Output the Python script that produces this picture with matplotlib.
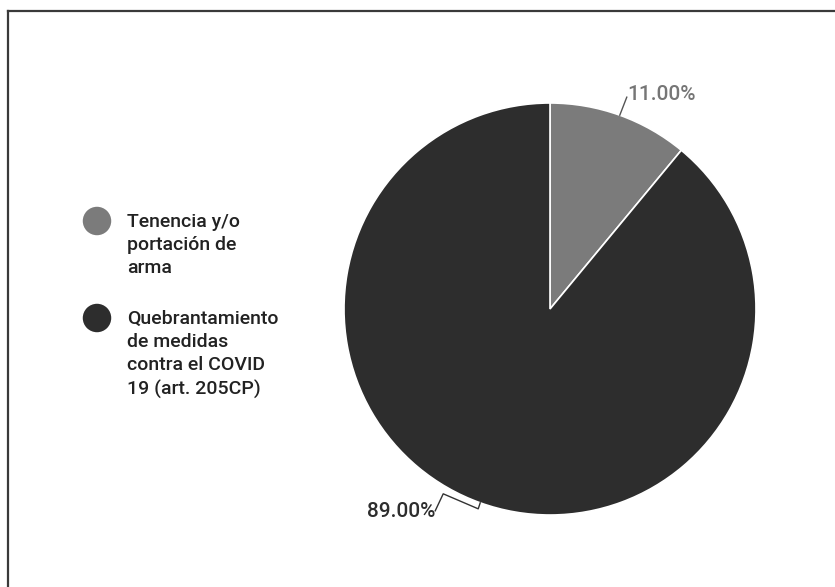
import numpy as np
import matplotlib.pyplot as plt
from matplotlib.lines import Line2D

plt.rcParams['font.family'] = ['Roboto', 'DejaVu Sans']

# Slice data
labels = ['Tenencia y/o\nportación de\narma',
          'Quebrantamiento\nde medidas\ncontra el COVID\n19 (art. 205CP)']
values = [11.0, 89.0]
colors = ['#7b7b7b', '#2d2d2d']
label_colors = ['#767676', '#2d2d2d']

W, H = 835, 587
fig = plt.figure(figsize=(W / 100, H / 100), dpi=100)
ax = fig.add_axes([0, 0, 1, 1])

cx, cy, r = 550, H - 309, 206
wedges, _ = ax.pie(values, colors=colors, startangle=90, counterclock=False,
                   center=(cx, cy), radius=r,
                   wedgeprops=dict(edgecolor='white', linewidth=1.2))
ax.set_xlim(0, W)
ax.set_ylim(0, H)
ax.set_aspect('equal')
ax.axis('off')

# Percent labels with leader lines
for i, w in enumerate(wedges):
    mid = np.deg2rad((w.theta1 + w.theta2) / 2)
    ex, ey = cx + r * np.cos(mid), cy + r * np.sin(mid)
    txt = f'{values[i]:.2f}%'
    if i == 0:
        ax.plot([ex, ex + 7], [ey, ey + 18], color='#555555', lw=1)
        ax.text(ex + 7, ey + 21, txt, ha='left', va='center', fontsize=15,
                color=label_colors[i], fontweight='medium')
    else:
        xs = [ex, ex - 2, ex - 37, ex - 45]
        ys = [ey, ey - 6, ey + 9, ey - 8]
        ax.plot(xs, ys, color='#333333', lw=1)
        ax.text(ex - 45, ey - 9, txt, ha='right', va='center', fontsize=15,
                color=label_colors[i], fontweight='medium')

# Legend
leg_y = [H - 221, H - 318]
for lab, col, y in zip(labels, colors, leg_y):
    ax.scatter([97], [y], s=420, color=col, edgecolors='none')
    ax.text(127, y + 8, lab, ha='left', va='top', fontsize=14, color='#222222',
            linespacing=1.37, fontweight='medium')

# Frame lines on top and left
fig.add_artist(Line2D([8 / W, 1], [1 - 11 / H, 1 - 11 / H], color='#3a3a3a', lw=1.6))
fig.add_artist(Line2D([8 / W, 8 / W], [0, 1 - 11 / H], color='#3a3a3a', lw=1.6))

fig.savefig('out.png', dpi=100, facecolor='white')
